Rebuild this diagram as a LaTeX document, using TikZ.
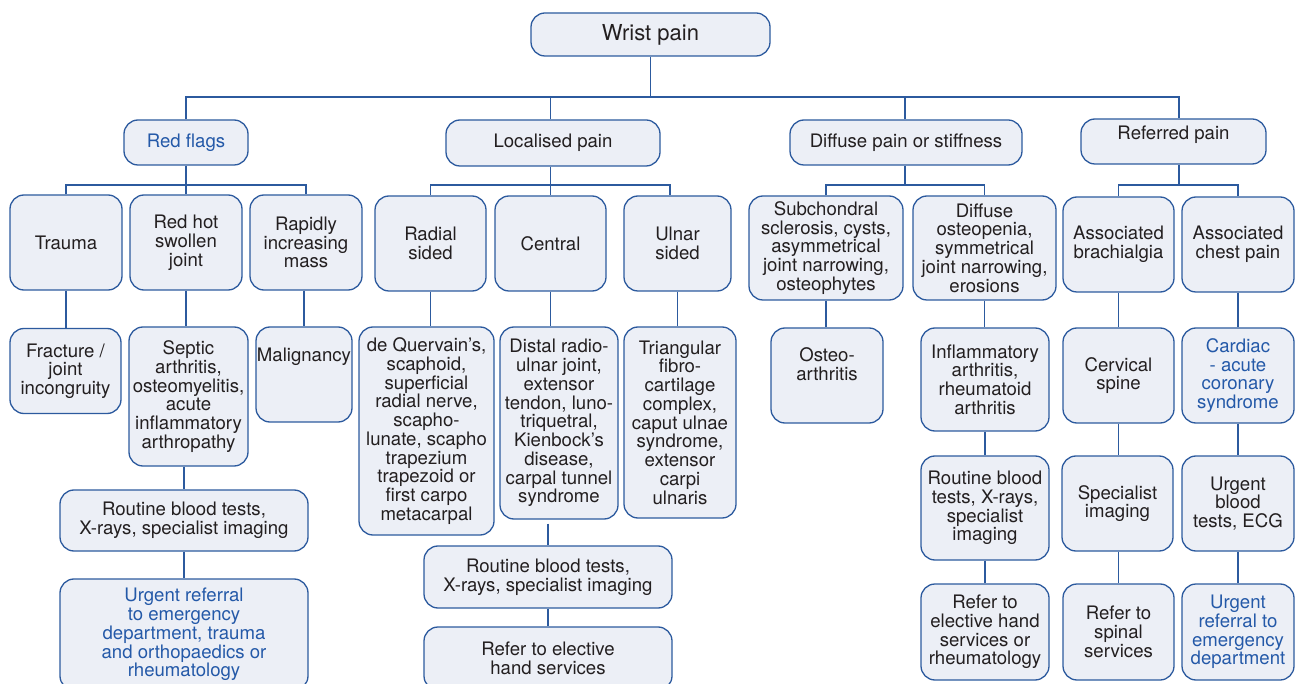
\documentclass[tikz,border=0pt]{standalone}
\usepackage{fontspec}
\setmainfont{TeX Gyre Heros}
\usetikzlibrary{positioning}
\definecolor{frameblue}{HTML}{2C5A9E}
\definecolor{boxfill}{HTML}{ECEFF6}
\definecolor{ink}{HTML}{231F20}
\definecolor{flagblue}{HTML}{2459A8}
\begin{document}
\begin{tikzpicture}[
    x=1pt,y=-1pt,
    every node/.style={font=\fontsize{18.6}{18.75}\selectfont, text=ink},
    box/.style={draw=frameblue, fill=boxfill, line width=1.3pt, rounded corners=14pt,
        align=center, inner sep=0pt},
    alert/.style={text=flagblue},
    link/.style={draw=frameblue, line width=1.3pt}
]
    \useasboundingbox (0,0) rectangle (1296,684);
    \clip (0,0) rectangle (1296,684);

    % top level
    \node[box, minimum width=239pt, minimum height=43pt, font=\fontsize{22}{24}\selectfont] (wrist) at (650.5,34.5) {Wrist pain};

    \node[box, alert, minimum width=124pt, minimum height=45pt] (redflags) at (186,142.5) {Red flags};
    \node[box, minimum width=214pt, minimum height=46pt] (local) at (553,143) {Localised pain};
    \node[box, minimum width=232pt, minimum height=45pt] (diffuse) at (906,142.5) {Diffuse pain or stiffness};
    \node[box, minimum width=185pt, minimum height=45pt] (referred) at (1173.5,141.5) {};
    \node at ([yshift=6.5pt]referred.center) {Referred pain};

    % second level
    \node[box, minimum width=112pt, minimum height=95pt] (trauma) at (66,242.5) {Trauma};
    \node[box, minimum width=112pt, minimum height=95pt] (redhot) at (186,242.5) {Red hot\\swollen\\joint};
    \node[box, minimum width=112pt, minimum height=95pt] (rapid) at (306,242.5) {Rapidly\\increasing\\mass};
    \node[box, minimum width=111pt, minimum height=95pt] (radial) at (430.5,243.5) {Radial\\sided};
    \node[box, minimum width=111pt, minimum height=95pt] (central) at (550.5,243.5) {Central};
    \node[box, minimum width=107pt, minimum height=95pt] (ulnar) at (677.5,243.5) {Ulnar\\sided};
    \node[box, minimum width=154pt, minimum height=104pt] (subch) at (826,248) {Subchondral\\sclerosis, cysts,\\asymmetrical\\joint narrowing,\\osteophytes};
    \node[box, minimum width=143pt, minimum height=104pt] (dosteo) at (984.5,248) {Diffuse\\osteopenia,\\symmetrical\\joint narrowing,\\erosions};
    \node[box, minimum width=111pt, minimum height=95pt] (brach) at (1118.5,244.5) {Associated\\brachialgia};
    \node[box, minimum width=112pt, minimum height=95pt] (chest) at (1238,244.5) {Associated\\chest pain};

    % third level
    \node[box, minimum width=111pt, minimum height=85pt] (fracture) at (65.5,371) {Fracture /\\joint\\incongruity};
    \node[box, minimum width=119pt, minimum height=139pt] (septic) at (188.5,396.5) {Septic\\arthritis,\\osteomyelitis,\\acute\\inflammatory\\arthropathy};
    \node[box, minimum width=96pt, minimum height=95pt] (malig) at (304,374.5) {};
    \node at ([yshift=-30pt]malig.north) {Malignancy};
    \node[box, minimum width=135pt, minimum height=208pt] (quer) at (426.5,431) {de Quervain’s,\\scaphoid,\\superficial\\radial nerve,\\scapho-\\lunate, scapho\\trapezium\\trapezoid or\\first carpo\\metacarpal};
    \node[box, minimum width=118pt, minimum height=192pt] (distal) at (559,423) {Distal radio-\\ulnar joint,\\extensor\\tendon, luno-\\triquetral,\\Kienbock’s\\disease,\\carpal tunnel\\syndrome};
    \node[box, minimum width=112pt, minimum height=191pt] (tri) at (680,422.5) {Triangular\\fibro-\\cartilage\\complex,\\caput ulnae\\syndrome,\\extensor\\carpi\\ulnaris};
    \node[box, minimum width=112pt, minimum height=95pt] (osteo) at (827,375.5) {};
    \node[align=center] at ([yshift=-37pt]osteo.north) {Osteo-\\arthritis};
    \node[box, minimum width=128pt, minimum height=103pt] (inflam) at (985,379.5) {Inflammatory\\arthritis,\\rheumatoid\\arthritis};
    \node[box, minimum width=111pt, minimum height=95pt] (cerv) at (1118.5,375.5) {Cervical\\spine};
    \node[box, alert, minimum width=112pt, minimum height=95pt] (cardiac) at (1238,375.5) {Cardiac\\- acute\\coronary\\syndrome};

    % fourth level
    \node[box, minimum width=248pt, minimum height=61pt] (routine1) at (184,520.5) {Routine blood tests,\\X-rays, specialist imaging};
    \node[box, alert, minimum width=248pt, minimum height=111pt] (urgent1) at (184,634.5) {Urgent referral\\to emergency\\department, trauma\\and orthopaedics or\\rheumatology};
    \node[box, minimum width=248pt, minimum height=62pt] (routine2) at (548,577) {Routine blood tests,\\X-rays, specialist imaging};
    \node[box, minimum width=248pt, minimum height=63pt] (elective2) at (548,658.5) {Refer to elective\\hand services};
    \node[box, minimum width=128pt, minimum height=104pt] (routine3) at (985,508) {Routine blood\\tests, X-rays,\\specialist\\imaging};
    \node[box, minimum width=128pt, minimum height=96pt] (refer3) at (985,632) {Refer to\\elective hand\\services or\\rheumatology};
    \node[box, minimum width=111pt, minimum height=95pt] (spec) at (1117.5,503.5) {Specialist\\imaging};
    \node[box, minimum width=111pt, minimum height=96pt] (spinal) at (1118.5,632) {Refer to\\spinal\\services};
    \node[box, minimum width=112pt, minimum height=95pt] (ubt) at (1238,503.5) {Urgent\\blood\\tests, ECG};
    \node[box, alert, minimum width=112pt, minimum height=96pt] (uref) at (1238,632) {Urgent\\referral to\\emergency\\department};

    % connectors
    \coordinate (bus0) at (0,97);
    \coordinate (bus1) at (0,185);
    \draw[link] (wrist.south) -- (wrist.south |- bus0);
    \draw[link] (redflags.north) |- ([xshift=5.5pt]referred.north |- bus0) -- ([xshift=5.5pt]referred.north);
    \draw[link] (central.north |- local.north) -- (central.north |- bus0);
    \draw[link] ([xshift=-1pt]diffuse.north) -- ([xshift=-1pt]diffuse.north |- bus0);

    \draw[link] (redflags.south) -- (redhot.north);
    \draw[link] (trauma.north) |- (rapid.north |- bus1) -- (rapid.north);
    \draw[link] (central.north |- local.south) -- (central.north);
    \draw[link] (radial.north) |- ([xshift=-7.5pt]ulnar.north |- bus1) -- ([xshift=-7.5pt]ulnar.north);
    \draw[link] ([xshift=-1pt]diffuse.south) -- ([xshift=-1pt]diffuse.south |- bus1);
    \draw[link] (subch.north) |- (dosteo.north |- bus1) -- (dosteo.north);
    \draw[link] ([xshift=5.5pt]referred.south) -- ([xshift=5.5pt]referred.south |- bus1);
    \draw[link] (brach.north) |- (chest.north |- bus1) -- (chest.north);

    \draw[link] (trauma.south) -- (trauma.south |- fracture.north);
    \draw[link] (redhot.south) -- (redhot.south |- septic.north);
    \draw[link] (malig.north |- rapid.south) -- (malig.north);
    \draw[link] (radial.south) -- (radial.south |- quer.north);
    \draw[link] (central.south) -- (central.south |- distal.north);
    \draw[link] (ulnar.south) -- (ulnar.south |- tri.north);
    \draw[link] (subch.south) -- (subch.south |- osteo.north);
    \draw[link] (dosteo.south) -- (dosteo.south |- inflam.north);
    \draw[link] (brach.south) -- (brach.south |- cerv.north);
    \draw[link] (chest.south) -- (cardiac.north);

    \draw[link] (routine1.north |- septic.south) -- (routine1.north);
    \draw[link] (routine1.south) -- (urgent1.north);
    \draw[link] ([yshift=-4pt]routine2.north |- distal.south) -- (routine2.north);
    \draw[link] (routine2.south) -- (elective2.north);
    \draw[link] (inflam.south) -- (routine3.north);
    \draw[link] (routine3.south) -- (refer3.north);
    \draw[link] (cerv.south) -- (cerv.south |- spec.north);
    \draw[link] (spinal.north |- spec.south) -- (spinal.north);
    \draw[link] (cardiac.south) -- (ubt.north);
    \draw[link] (ubt.south) -- (uref.north);
\end{tikzpicture}
\end{document}
